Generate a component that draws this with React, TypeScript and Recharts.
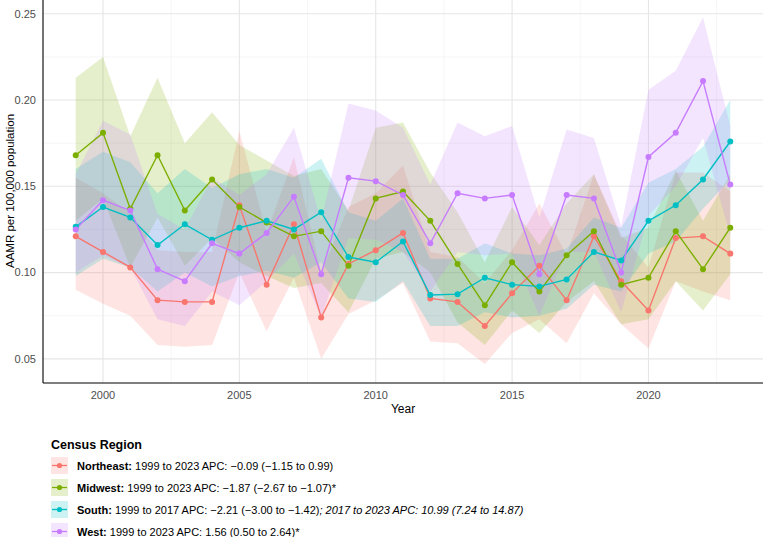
import { Area, CartesianGrid, ComposedChart, Line, XAxis, YAxis } from "recharts";

const years = [
  1999, 2000, 2001, 2002, 2003, 2004, 2005, 2006, 2007, 2008, 2009, 2010, 2011, 2012, 2013, 2014, 2015, 2016, 2017,
  2018, 2019, 2020, 2021, 2022, 2023,
];

const northeast = [0.121, 0.112, 0.103, 0.084, 0.083, 0.083, 0.139, 0.093, 0.128, 0.074, 0.105, 0.113, 0.123, 0.085, 0.083, 0.069, 0.088, 0.104, 0.084, 0.121, 0.095, 0.078, 0.12, 0.121, 0.111];
const northeastLow = [0.09, 0.082, 0.075, 0.058, 0.057, 0.058, 0.1, 0.066, 0.097, 0.05, 0.076, 0.084, 0.094, 0.06, 0.059, 0.047, 0.065, 0.073, 0.059, 0.088, 0.07, 0.056, 0.095, 0.089, 0.084];
const northeastHigh = [0.155, 0.146, 0.134, 0.113, 0.112, 0.112, 0.182, 0.123, 0.167, 0.1, 0.138, 0.146, 0.162, 0.112, 0.109, 0.094, 0.113, 0.14, 0.11, 0.157, 0.122, 0.103, 0.158, 0.158, 0.147];

const midwest = [0.168, 0.181, 0.137, 0.168, 0.136, 0.154, 0.138, 0.129, 0.121, 0.124, 0.104, 0.143, 0.147, 0.13, 0.105, 0.081, 0.106, 0.089, 0.11, 0.124, 0.093, 0.097, 0.124, 0.102, 0.126];
const midwestLow = [0.13, 0.143, 0.103, 0.132, 0.104, 0.12, 0.106, 0.098, 0.091, 0.094, 0.077, 0.108, 0.112, 0.1, 0.071, 0.058, 0.078, 0.065, 0.083, 0.095, 0.07, 0.073, 0.095, 0.078, 0.099];
const midwestHigh = [0.213, 0.225, 0.179, 0.213, 0.175, 0.193, 0.174, 0.165, 0.156, 0.16, 0.136, 0.184, 0.187, 0.158, 0.135, 0.106, 0.138, 0.116, 0.14, 0.157, 0.12, 0.126, 0.159, 0.13, 0.157];

const south = [0.1265, 0.138, 0.132, 0.116, 0.128, 0.119, 0.126, 0.13, 0.125, 0.135, 0.109, 0.106, 0.118, 0.087, 0.0875, 0.097, 0.093, 0.092, 0.096, 0.112, 0.107, 0.13, 0.139, 0.154, 0.176];
const southLow = [0.098, 0.108, 0.103, 0.089, 0.1, 0.092, 0.098, 0.101, 0.097, 0.106, 0.085, 0.083, 0.095, 0.069, 0.069, 0.077, 0.074, 0.075, 0.079, 0.093, 0.089, 0.111, 0.118, 0.137, 0.154];
const southHigh = [0.16, 0.17, 0.164, 0.146, 0.16, 0.149, 0.157, 0.16, 0.155, 0.166, 0.135, 0.13, 0.143, 0.108, 0.108, 0.117, 0.111, 0.11, 0.114, 0.132, 0.126, 0.152, 0.16, 0.173, 0.2];

const west = [0.125, 0.142, 0.136, 0.102, 0.095, 0.117, 0.111, 0.123, 0.144, 0.099, 0.155, 0.153, 0.145, 0.117, 0.146, 0.143, 0.145, 0.099, 0.145, 0.143, 0.1, 0.167, 0.181, 0.211, 0.151];
const westLow = [0.1, 0.11, 0.103, 0.073, 0.069, 0.089, 0.081, 0.095, 0.111, 0.074, 0.12, 0.119, 0.112, 0.089, 0.112, 0.11, 0.111, 0.075, 0.112, 0.112, 0.077, 0.133, 0.15, 0.178, 0.121];
const westHigh = [0.157, 0.188, 0.18, 0.134, 0.125, 0.155, 0.145, 0.157, 0.184, 0.13, 0.198, 0.194, 0.184, 0.151, 0.187, 0.179, 0.185, 0.132, 0.183, 0.178, 0.127, 0.206, 0.217, 0.248, 0.185];

const xTicks = [2000, 2005, 2010, 2015, 2020];
const xMinor = [2002.5, 2007.5, 2012.5, 2017.5, 2022.5];
const yTicks = [0.05, 0.1, 0.15, 0.2, 0.25];
const yMinor = [0.075, 0.125, 0.175, 0.225];

const regions = [
  { key: "ne", name: "Northeast", color: "#F8766D", text: "1999 to 2023 APC: \u22120.09 (\u22121.15 to 0.99)", extra: "" },
  { key: "mw", name: "Midwest", color: "#7CAE00", text: "1999 to 2023 APC: \u22121.87 (\u22122.67 to \u22121.07)*", extra: "" },
  {
    key: "s",
    name: "South",
    color: "#00BFC4",
    text: "1999 to 2017 APC: \u22122.21 (\u22123.00 to \u22121.42)",
    extra: "; 2017 to 2023 APC: 10.99 (7.24 to 14.87)",
  },
  { key: "w", name: "West", color: "#C77CFF", text: "1999 to 2023 APC: 1.56 (0.50 to 2.64)*", extra: "" },
];

const data = years.map((year, i) => ({
  year,
  ne: northeast[i],
  neBand: [northeastLow[i], northeastHigh[i]],
  mw: midwest[i],
  mwBand: [midwestLow[i], midwestHigh[i]],
  s: south[i],
  sBand: [southLow[i], southHigh[i]],
  w: west[i],
  wBand: [westLow[i], westHigh[i]],
}));

const font = "'Liberation Sans', Arial, sans-serif";
const tickStyle = { fontSize: 11, fill: "#4D4D4D", fontFamily: font };

function LegendKey({ color }: { color: string }) {
  return (
    <svg width={17} height={17} style={{ display: "block" }}>
      <rect x={0} y={0} width={17} height={17} fill={color} fillOpacity={0.2} />
      <line x1={1} y1={8.5} x2={16} y2={8.5} stroke={color} strokeWidth={1.3} />
      <circle cx={8.5} cy={8.5} r={2.6} fill={color} />
    </svg>
  );
}

export default function App() {
  return (
    <div style={{ position: "absolute", left: 0, top: 0, width: 763, height: 537, background: "#fff", fontFamily: font }}>
      <ComposedChart width={763} height={420} data={data} margin={{ top: 0, right: 0, bottom: 0, left: 0 }}>
        <CartesianGrid stroke="#F0F0F0" strokeWidth={0.6} horizontalValues={yMinor} verticalValues={xMinor} />
        <CartesianGrid stroke="#E6E6E6" strokeWidth={1.1} horizontalValues={yTicks} verticalValues={xTicks} />
        <XAxis
          dataKey="year"
          type="number"
          domain={[1997.8, 2024.2]}
          ticks={xTicks}
          tickLine={false}
          tickSize={0}
          tickMargin={8}
          height={37}
          axisLine={{ stroke: "#000", strokeWidth: 1.1 }}
          tick={tickStyle}
          allowDataOverflow
        />
        <YAxis
          type="number"
          domain={[0.036, 0.258]}
          ticks={yTicks}
          tickFormatter={(v: number) => v.toFixed(2)}
          tickLine={false}
          tickSize={0}
          tickMargin={7}
          width={43}
          axisLine={{ stroke: "#000", strokeWidth: 1.1 }}
          tick={tickStyle}
          allowDataOverflow
        />
        {regions.map((r) => (
          <Area
            key={r.key + "band"}
            type="linear"
            dataKey={r.key + "Band"}
            stroke="none"
            fill={r.color}
            fillOpacity={0.2}
            dot={false}
            activeDot={false}
            isAnimationActive={false}
          />
        ))}
        {regions.map((r) => (
          <Line
            key={r.key}
            type="linear"
            dataKey={r.key}
            stroke={r.color}
            strokeWidth={1.4}
            dot={{ r: 3, fill: r.color, stroke: "none" }}
            activeDot={false}
            isAnimationActive={false}
          />
        ))}
        <text x={403} y={413} textAnchor="middle" fontSize={12} fill="#000" fontFamily={font}>
          Year
        </text>
        <text
          x={14}
          y={191}
          transform="rotate(-90 14 191)"
          textAnchor="middle"
          fontSize={11.5}
          fill="#000"
          fontFamily={font}
        >
          AAMR per 100,000 population
        </text>
      </ComposedChart>
      <div style={{ position: "absolute", left: 51, top: 438, fontSize: 12.5, fontWeight: 700, color: "#000" }}>
        Census Region
      </div>
      {regions.map((r, i) => (
        <div
          key={r.key}
          style={{
            position: "absolute",
            left: 51,
            top: 457 + i * 22,
            display: "flex",
            alignItems: "center",
            fontSize: 11,
            color: "#000",
            whiteSpace: "nowrap",
          }}
        >
          <LegendKey color={r.color} />
          <span style={{ marginLeft: 9 }}>
            <b>{r.name}:</b> {r.text}
            {r.extra && <i>{r.extra}</i>}
          </span>
        </div>
      ))}
    </div>
  );
}
